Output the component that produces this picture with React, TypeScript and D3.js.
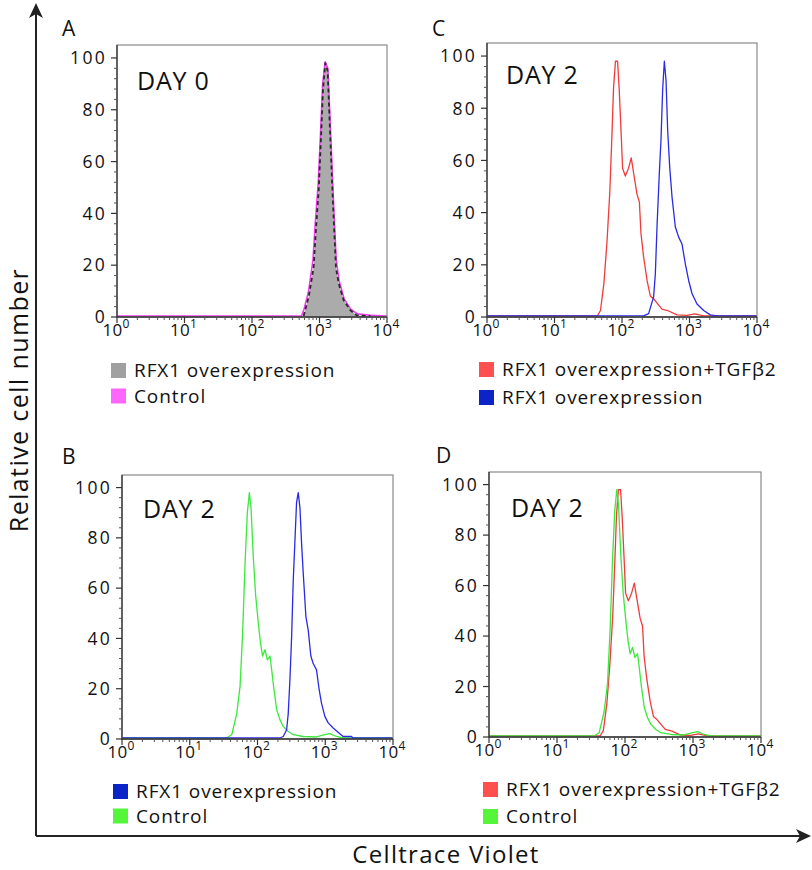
import React from 'react';
import * as d3 from 'd3';

type Pt = [number, number];

// ---- Data (fluorescence value, relative cell number) ----
const xTickExps = [0, 1, 2, 3, 4];
const yTickValues = [0, 20, 40, 60, 80, 100];
const panelLetters = ['A', 'B', 'C', 'D'];
const dayLabels = ['DAY 0', 'DAY 2', 'DAY 2', 'DAY 2'];

const legendA = ['RFX1 overexpression', 'Control'];
const legendB = ['RFX1 overexpression', 'Control'];
const legendC = ['RFX1 overexpression+TGFβ2', 'RFX1 overexpression'];
const legendD = ['RFX1 overexpression+TGFβ2', 'Control'];

// Panel A, day 0
const day0Rfx1: Pt[] = [
  [582, 0.4], [692, 7.8], [817, 19], [887, 34], [973, 49], [1052, 69], [1127, 88],
  [1220, 98], [1321, 95], [1415, 75], [1531, 53], [1622, 38], [1754, 19], [1923, 13],
  [2280, 6.5], [2864, 2.6], [3596, 0.6], [5666, 0.4],
];
const day0Control: Pt[] = [
  [1, 0.4], [540, 0.4], [590, 3], [690, 10], [800, 22], [870, 37], [960, 52], [1040, 72],
  [1115, 90], [1210, 98.5], [1330, 96], [1430, 77], [1550, 55], [1640, 40], [1770, 22],
  [1950, 14], [2320, 7], [2900, 3], [3650, 1.2], [5700, 0.7], [10000, 0.4],
];

// Day 2 series
const day2Tgf: Pt[] = [
  [1, 0.4], [43, 0.4], [48, 2.5], [54, 13], [60, 29], [66, 48], [71, 70], [75, 88], [80, 98],
  [86, 98], [91, 87], [98, 68], [102, 57], [112, 54], [125, 57], [137, 61], [149, 55],
  [167, 47], [181, 44], [191, 32], [209, 23], [235, 14], [263, 8], [294, 7], [338, 5],
  [391, 3], [491, 2.3], [653, 0.8], [918, 0.6], [1200, 1.2], [1620, 0.4], [10000, 0.4],
];
const day2RfxC: Pt[] = [
  [1, 0.4], [209, 0.4], [248, 1.3], [294, 7.7], [312, 16.6], [330, 34.5], [357, 55],
  [378, 67.7], [400, 87], [424, 98], [449, 90.7], [475, 71.5], [509, 57.5], [551, 46],
  [617, 34.5], [691, 30.6], [774, 28], [867, 20.4], [972, 14], [1089, 9], [1291, 5],
  [1622, 2.5], [2037, 0.8], [2555, 0.4], [10000, 0.4],
];
const day2RfxB: Pt[] = [
  [1, 0.4], [214, 0.4], [240, 1], [269, 3.7], [284, 10], [301, 23.6], [319, 40.8], [337, 63],
  [357, 79], [377, 94], [399, 98], [423, 92], [447, 78], [473, 66], [518, 48.7], [560, 43.4],
  [613, 33], [664, 30], [743, 27.5], [813, 19.6], [880, 14.3], [986, 9], [1105, 6.4],
  [1309, 4.4], [1641, 2.1], [1835, 1], [2437, 1], [2577, 0.4], [10000, 0.4],
];
const day2Control: Pt[] = [
  [1, 0.4], [35, 0.4], [41.7, 1.7], [49.3, 10], [55.3, 21], [60.5, 43], [65.5, 70], [70.8, 90],
  [75.8, 98], [80.2, 92], [86.8, 72], [94, 57], [102.9, 46], [111, 38], [119, 33], [129, 35.5],
  [140, 31.5], [153, 33], [162, 27.5], [175, 19.6], [192, 11.7], [214, 7.7], [240, 5],
  [284, 3], [337, 1.7], [473, 1], [743, 0.8], [986, 1.7], [1168, 2.1], [1465, 1],
  [1835, 0.4], [10000, 0.4],
];

// ---- styles ----
const RED = '#f23a3a';
const BLUE = '#2a2ae6';
const GREEN = '#3ce83c';
const MAGENTA = '#f03cf0';
const TICK_FONT = '"Open Sans", "Noto Sans", sans-serif';
const TEXT_FONT = '"Open Sans", "Noto Sans", sans-serif';

type Series = { data: Pt[]; color: string; width?: number; dash?: string; fill?: string };

type PanelProps = {
  left: number; right: number; top: number; bottom: number;
  letter: string; letterX: number; letterY: number;
  day: string; dayX: number; dayY: number;
  series: Series[];
  legend: string[]; legendColors: string[]; legendX: number; legendY: number; legendGap: number;
};

function Panel(p: PanelProps) {
  const x = d3.scaleLog().domain([1, 10000]).range([p.left, p.right]);
  const y = d3.scaleLinear().domain([0, 105]).range([p.bottom, p.top]);
  const line = d3.line<Pt>().x((d) => x(d[0])).y((d) => y(d[1])).curve(d3.curveLinear);
  const area = d3.area<Pt>().x((d) => x(d[0])).y0(y(0)).y1((d) => y(d[1])).curve(d3.curveLinear);

  const minorX: number[] = [];
  for (let e = 0; e < 4; e++) for (let k = 2; k <= 9; k++) minorX.push(k * Math.pow(10, e));
  const minorY: number[] = [];
  for (let v = 0; v <= 100; v += 4) if (v % 20 !== 0) minorY.push(v);

  return (
    <g>
      <text x={p.letterX} y={p.letterY} fontFamily={TEXT_FONT} fontSize={21} fill="#111">{p.letter}</text>
      {p.series.map((s, i) =>
        s.fill ? <path key={'a' + i} d={area(s.data) || ''} fill={s.fill} stroke="none" /> : null
      )}
      {p.series.map((s, i) =>
        s.width === 0 ? null : (
          <path key={'l' + i} d={line(s.data) || ''} fill="none" stroke={s.color}
            strokeWidth={s.width ?? 1.3} strokeDasharray={s.dash} strokeLinejoin="round" />
        )
      )}
      {/* frame */}
      <rect x={p.left} y={p.top} width={p.right - p.left} height={p.bottom - p.top}
        fill="none" stroke="#8a8a8a" strokeWidth={1.2} />
      <line x1={p.left} x2={p.left} y1={p.top} y2={p.bottom} stroke="#333" strokeWidth={1.3} />
      <line x1={p.left} x2={p.right} y1={p.bottom} y2={p.bottom} stroke="#333" strokeWidth={1.3} />
      {/* y ticks */}
      {yTickValues.map((v) => (
        <g key={'yt' + v}>
          <line x1={p.left - 6} x2={p.left} y1={y(v)} y2={y(v)} stroke="#333" strokeWidth={1.2} />
          <text x={p.left - 10} y={y(v)} dy="0.36em" textAnchor="end" fontFamily={TICK_FONT}
            style={{ fontSize: '17.5px', letterSpacing: '2.3px' }} fill="#111">{v}</text>
        </g>
      ))}
      {minorY.map((v) => (
        <line key={'ym' + v} x1={p.left - 3} x2={p.left} y1={y(v)} y2={y(v)} stroke="#555" strokeWidth={1} />
      ))}
      {/* x ticks */}
      {xTickExps.map((e) => (
        <g key={'xt' + e}>
          <line x1={x(Math.pow(10, e))} x2={x(Math.pow(10, e))} y1={p.bottom} y2={p.bottom + 6} stroke="#333" strokeWidth={1.2} />
          <text x={x(Math.pow(10, e)) - 1} y={p.bottom + 19} textAnchor="middle" fontFamily={TICK_FONT}
            style={{ fontSize: '17px', letterSpacing: '0.3px' }} fill="#111">
            <tspan>10</tspan>
            <tspan style={{ fontSize: '12px' }} dy={-8}>{e}</tspan>
          </text>
        </g>
      ))}
      {minorX.map((v) => (
        <line key={'xm' + v} x1={x(v)} x2={x(v)} y1={p.bottom} y2={p.bottom + 3} stroke="#555" strokeWidth={1} />
      ))}
      {/* day label */}
      <text x={p.dayX} y={p.dayY} fontFamily={TEXT_FONT} fontSize={25} fill="#111"
        style={{ letterSpacing: '0.8px' }}>{p.day}</text>
      {/* legend */}
      {p.legend.map((t, i) => (
        <g key={'lg' + i}>
          <rect x={p.legendX} y={p.legendY + i * p.legendGap} width={15} height={15} fill={p.legendColors[i]} />
          <text x={p.legendX + 23} y={p.legendY + i * p.legendGap + 14} fontFamily={TEXT_FONT}
            fontSize={19} style={{ letterSpacing: '0.9px' }} fill="#111">{t}</text>
        </g>
      ))}
    </g>
  );
}

export default function App() {
  return (
    <svg width={812} height={870} style={{ position: 'absolute', left: 0, top: 0, background: '#fff' }}>
      <rect x={0} y={0} width={812} height={870} fill="#fff" />
      {/* outer axes */}
      <line x1={36} x2={36} y1={12} y2={836} stroke="#222" strokeWidth={2} />
      <line x1={36} x2={802} y1={836} y2={836} stroke="#222" strokeWidth={2} />
      <path d="M36,3 L43,18 L36,14 L29,18 Z" fill="#222" />
      <path d="M811,836 L796,843 L800,836 L796,829 Z" fill="#222" />
      <text transform="translate(28,400) rotate(-90)" textAnchor="middle" fontFamily={TEXT_FONT}
        fontSize={25} style={{ letterSpacing: '1.4px' }} fill="#111">Relative cell number</text>
      <text x={446} y={863} textAnchor="middle" fontFamily={TEXT_FONT} fontSize={24}
        style={{ letterSpacing: '1.3px' }} fill="#111">Celltrace Violet</text>

      <Panel left={117} right={387} top={45} bottom={317}
        letter={panelLetters[0]} letterX={62} letterY={36}
        day={dayLabels[0]} dayX={137} dayY={90}
        series={[
          { data: day0Rfx1, color: '#ababab', fill: '#ababab', width: 0 },
          { data: day0Control, color: MAGENTA, width: 1.6 },
          { data: day0Rfx1, color: '#2a2a2a', width: 1.8, dash: '4,3' },
        ]}
        legend={legendA} legendColors={['#a0a0a0', '#ff66ff']} legendX={111} legendY={363} legendGap={25.5} />

      <Panel left={487} right={757} top={43} bottom={317}
        letter={panelLetters[2]} letterX={432} letterY={36}
        day={dayLabels[2]} dayX={506} dayY={84}
        series={[
          { data: day2Tgf, color: RED },
          { data: day2RfxC, color: BLUE },
        ]}
        legend={legendC} legendColors={['#ff5050', '#0a24c8']} legendX={479} legendY={362} legendGap={28} />

      <Panel left={122} right={393} top={475} bottom={739}
        letter={panelLetters[1]} letterX={62} letterY={464}
        day={dayLabels[1]} dayX={143} dayY={518}
        series={[
          { data: day2Control, color: GREEN },
          { data: day2RfxB, color: BLUE },
        ]}
        legend={legendB} legendColors={['#0a24c8', '#55f53a']} legendX={113} legendY={784} legendGap={24.5} />

      <Panel left={489} right={761} top={472} bottom={737}
        letter={panelLetters[3]} letterX={436} letterY={463}
        day={dayLabels[3]} dayX={511} dayY={517}
        series={[
          { data: day2Tgf, color: RED },
          { data: day2Control, color: GREEN },
        ]}
        legend={legendD} legendColors={['#ff5050', '#55f53a']} legendX={483} legendY={782} legendGap={27} />
    </svg>
  );
}
